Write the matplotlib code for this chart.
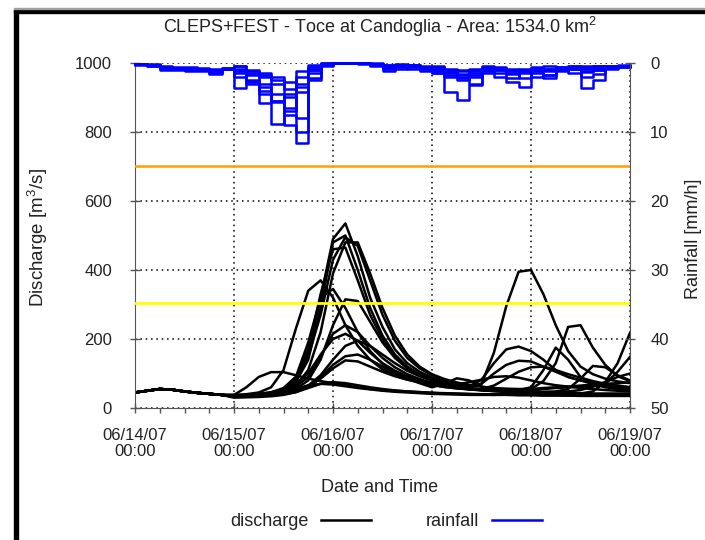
import numpy as np
import matplotlib
matplotlib.use('Agg')
import matplotlib.pyplot as plt
from matplotlib.lines import Line2D
from matplotlib.patches import Rectangle

plt.rcParams['font.family'] = ['Liberation Sans', 'DejaVu Sans']
plt.rcParams['mathtext.fontset'] = 'custom'
plt.rcParams['mathtext.rm'] = 'Liberation Sans'
plt.rcParams['mathtext.default'] = 'regular'

# ---------------- data ----------------
title = "CLEPS+FEST - Toce at Candoglia - Area: 1534.0 km$^2$"
xtick_hours = [0, 24, 48, 72, 96, 120]
xtick_labels = ["06/14/07\n00:00", "06/15/07\n00:00", "06/16/07\n00:00",
                "06/17/07\n00:00", "06/18/07\n00:00", "06/19/07\n00:00"]

# discharge: shared part (hours 0..21, 3-hourly) and ensemble members (hours 24..120)
hours_common = np.arange(0, 24, 3)
hours_member = np.arange(24, 121, 3)
q_common = [45, 50, 55, 53, 48, 44, 41, 38]

q_m01 = [35,36,38,42,52,80,160,320,490,535,440,320,235,170,130,105,88,76,68,62,82,130,170,178,165,140,110,90,80,72,68,64,60]
q_m02 = [34,35,37,40,50,75,140,290,480,500,400,290,210,155,120,98,82,72,65,62,70,160,295,395,400,330,240,165,120,98,85,77,72]
q_m03 = [36,37,40,45,58,90,150,270,430,495,470,370,270,195,145,115,95,82,72,66,70,100,125,137,135,120,105,90,80,70,62,58,55]
q_m04 = [33,34,36,39,46,65,110,220,390,480,480,390,290,210,155,120,98,84,74,67,62,58,56,55,55,78,130,235,240,175,125,92,78]
q_m05 = [35,37,39,43,55,85,170,330,460,465,370,270,200,150,118,96,80,70,62,56,52,49,47,45,44,43,42,42,42,48,75,130,218]
q_m06 = [38,40,45,60,110,230,340,370,320,240,180,140,112,95,83,74,67,61,57,55,55,65,85,105,118,120,110,98,88,78,70,65,60]
q_m07 = [34,36,38,42,55,90,190,320,345,290,220,165,128,102,86,75,67,61,57,54,52,50,50,52,60,110,175,140,90,70,60,55,52]
q_m08 = [33,34,36,38,44,55,80,140,240,315,310,250,190,145,115,95,80,70,63,58,54,51,49,48,47,47,48,55,85,122,118,95,80]
q_m09 = [34,35,37,40,48,62,90,150,215,240,220,180,145,118,98,84,73,65,59,55,52,50,48,47,46,46,46,48,52,62,70,105,148]
q_m10 = [36,38,41,46,55,70,100,155,200,215,195,160,130,108,92,80,70,63,58,54,51,49,47,46,45,44,44,43,43,42,42,42,42]
q_m11 = [33,34,35,37,40,46,60,90,125,150,155,140,120,100,85,72,60,70,86,80,62,52,48,46,44,43,42,41,41,40,40,40,40]
q_m12 = [38,60,90,104,104,95,85,78,72,66,60,55,52,50,48,46,44,43,42,41,40,40,39,38,38,37,37,36,36,36,36,36,36]
q_m13 = [30,31,32,34,38,46,58,70,75,72,66,60,55,51,48,46,44,42,41,40,39,38,38,37,37,36,36,36,35,35,35,35,35]
q_m14 = [34,35,37,40,45,55,66,70,68,63,58,54,50,47,45,43,41,40,39,38,38,38,40,45,50,55,58,60,62,65,75,90,100]
q_m15 = [34,35,36,38,42,50,65,95,140,180,195,180,155,130,108,92,80,70,63,58,54,51,50,52,55,58,60,62,65,68,70,72,74]
q_m16 = [35,36,38,40,44,50,62,85,115,138,135,120,105,92,82,75,70,67,68,75,82,90,92,88,80,72,66,62,58,55,52,50,48]

threshold_high = 700
threshold_low = 305

# rainfall members (3-hourly mean intensity, mm/h, hours 0..117)
hours_rain = np.arange(0, 120, 3)
r_m1 = [0.2,0.3,0.8,0.8,0.8,0.8,1.0,0.8, 1.5,2.5,3.5,5.5,9.0,11.6,1.5,0.3,
        0,0,0,0.3,0.8,0.5,0.8,1.0, 1.5,4.2,5.4,3.2,1.2,0.6,1.5,1.0,
        0.8,0.5,0.6,0.5,0.4,0.4,0.4,0.3]
r_m2 = [0.3,0.4,1.0,1.0,1.1,1.2,1.5,0.9, 3.6,2.8,5.8,8.9,7.0,2.0,0.6,0,
        0,0,0.2,0.5,1.2,0.6,0.3,0.8, 1.5,2.0,2.5,1.8,0.8,1.5,2.8,3.5,
        1.2,0.8,1.0,0.8,0.6,0.5,0.4,0.4]
r_m3 = [0.2,0.4,0.7,0.7,0.7,0.8,1.6,0.7, 1.2,2.6,4.0,5.6,4.5,1.2,0.3,0,
        0,0,0,0.3,0.7,0.4,0.5,1.1, 0.8,1.2,2.0,1.5,0.9,1.0,1.2,1.4,
        2.0,1.8,1.0,1.5,3.6,2.5,0.8,0.5]
r_m4 = [0.1,0.3,0.6,0.7,0.8,0.9,1.0,0.8, 0.8,1.5,2.0,2.5,3.8,4.2,1.0,0.2,
        0,0,0,0.2,0.5,0.8,0.6,0.9, 1.2,1.8,2.2,3.0,1.5,1.0,0.8,1.2,
        1.5,2.2,1.2,0.8,1.2,1.0,0.6,0.5]
r_m5 = [0.2,0.3,0.7,0.9,0.9,1.0,1.2,0.9, 0.5,1.0,1.8,3.0,5.0,8.0,2.2,0.4,
        0,0,0,0,0.3,0.5,0.4,0.6, 0.6,1.0,1.2,1.0,0.7,2.0,2.2,1.0,
        0.8,1.0,0.9,0.7,2.0,1.6,0.7,0.6]
r_m6 = [0.2,0.3,0.7,0.8,0.8,0.9,1.1,0.9, 2.0,3.0,4.5,5.5,6.5,3.0,0.8,0.2,
        0,0,0,0.2,0.4,0.3,0.4,0.7, 1.0,1.4,1.8,1.2,0.6,0.8,1.0,2.2,
        1.0,1.8,0.8,0.6,0.8,0.7,0.6,0.6]
r_m7 = [0.2,0.3,0.6,0.7,0.7,0.8,1.0,0.8, 1.0,1.8,3.0,4.5,7.5,10.0,2.5,0.3,
        0,0,0,0.2,0.4,0.4,0.3,0.6, 0.9,1.3,1.6,2.0,1.0,0.9,1.6,1.2,
        0.9,1.2,1.0,0.9,1.3,1.0,0.6,0.5]
r_m8 = [0.1,0.2,0.5,0.6,0.6,0.7,0.9,0.7, 0.5,1.2,1.5,2.0,2.8,3.5,1.0,0.1,
        0,0,0,0.1,0.3,0.2,0.3,0.5, 0.5,0.8,1.0,0.8,0.5,0.7,1.0,0.8,
        0.6,0.8,0.6,0.5,0.6,0.5,0.4,0.4]

discharge_members = [q_m01, q_m02, q_m03, q_m04, q_m05, q_m06, q_m07, q_m08,
                     q_m09, q_m10, q_m11, q_m12, q_m13, q_m14, q_m15, q_m16]
rain_members = [r_m1, r_m2, r_m3, r_m4, r_m5, r_m6, r_m7, r_m8]

# ---------------- figure ----------------
W, H = 705, 540
fig = plt.figure(figsize=(W / 100, H / 100), dpi=100)
fig.patch.set_facecolor('white')

# outer frame pieces
fig.patches.append(Rectangle((14 / W, 0), 4 / W, 1 - 10 / H, transform=fig.transFigure,
                             color='black', zorder=0))
fig.patches.append(Rectangle((14 / W, 1 - 13 / H), 1 - 14 / W, 3 / H, transform=fig.transFigure,
                             color='black', zorder=0))
fig.patches.append(Rectangle((14 / W, 1 - 9 / H), 1 - 14 / W, 1.5 / H, transform=fig.transFigure,
                             color='#a0a0a0', zorder=0))

ax = fig.add_axes([135 / W, 1 - 408 / H, 495 / W, 345 / H])
ax.set_xlim(0, 120)
ax.set_ylim(0, 1000)
ax.set_axisbelow(True)

spine_c = '#555555'
lab_c = '#222222'

hours_full = np.concatenate([hours_common, hours_member])
for q in discharge_members:
    ax.plot(hours_full, np.concatenate([q_common, q]), color='black', lw=1.8,
            solid_joinstyle='round', zorder=2)

ax.axhline(threshold_high, color='#ff9f00', lw=1.8, zorder=3)
ax.axhline(threshold_low, color='#ffff00', lw=2.0, zorder=3)

ax.set_xticks(xtick_hours)
ax.set_xticklabels(xtick_labels, fontsize=12, linespacing=1.05)
ax.set_xticks(np.arange(0, 121, 6), minor=True)
ax.set_yticks(np.arange(0, 1001, 200))
ax.tick_params(axis='y', labelsize=12, direction='inout', length=7, width=1,
               color=spine_c, labelcolor=lab_c, pad=13)
ax.tick_params(axis='x', which='major', direction='inout', length=7, width=1,
               color=spine_c, labelcolor=lab_c, pad=11)
ax.tick_params(axis='x', which='minor', direction='out', length=3.5, width=1, color=spine_c)
ax.grid(True, which='major', color='black', linestyle=(0, (1, 2.5)), linewidth=1.1)
for s in ['top', 'right']:
    ax.spines[s].set_visible(False)
for s in ['left', 'bottom']:
    ax.spines[s].set_color(spine_c)

ax2 = ax.twinx()
ax2.set_ylim(50, 0)
ax2.set_yticks(np.arange(0, 51, 10))
for r in rain_members:
    ax2.plot(np.append(hours_rain, 120), np.append(r, r[-1]), color='#0000ff', lw=1.8,
             drawstyle='steps-post', clip_on=False, zorder=2)
ax2.tick_params(axis='y', labelsize=12, direction='inout', length=7, width=1,
                color=spine_c, labelcolor=lab_c, pad=11)
for s in ['top', 'left', 'bottom']:
    ax2.spines[s].set_visible(False)
ax2.spines['right'].set_color(spine_c)

# texts
fig.text(380 / W, 1 - 27 / H, title, ha='center', va='center', fontsize=13, color=lab_c)
fig.text(38 / W, 1 - 238 / H, "Discharge [m$^3$/s]", rotation=90, ha='center', va='center',
         fontsize=13.5, color=lab_c)
fig.text(694 / W, 1 - 239 / H, "Rainfall [mm/h]", rotation=90, ha='center', va='center',
         fontsize=13, color=lab_c)
fig.text(380 / W, 1 - 487 / H, "Date and Time", ha='center', va='center', fontsize=13,
         color=lab_c)

handles = [Line2D([], [], color='black', lw=1.8), Line2D([], [], color='#0000ff', lw=1.8)]
fig.legend(handles, ['discharge', 'rainfall'], loc='center', bbox_to_anchor=(386 / W, 1 - 522 / H),
           ncol=2, frameon=False, markerfirst=False, handlelength=2.8, columnspacing=3.0,
           handletextpad=0.7, fontsize=13, labelcolor=lab_c)

fig.savefig('out.png', dpi=100, facecolor='white')
